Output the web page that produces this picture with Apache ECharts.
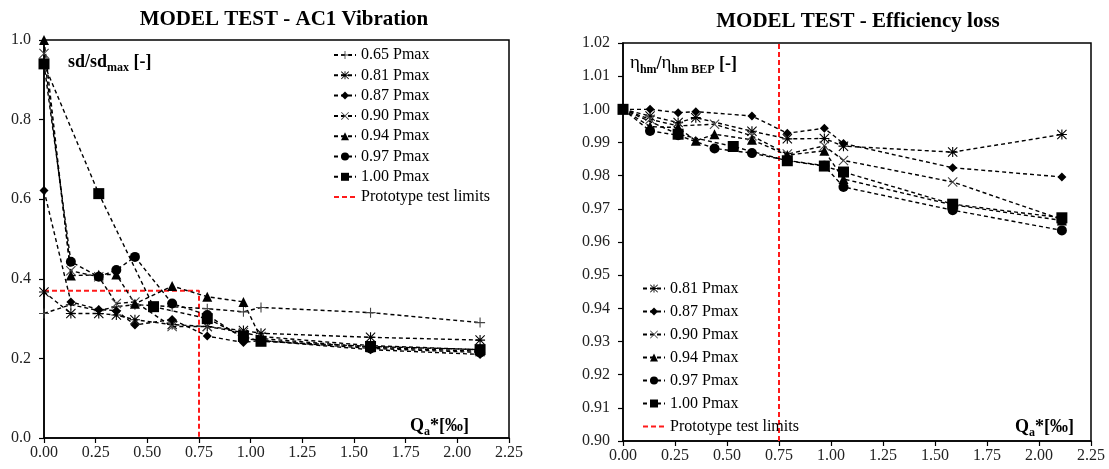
<!DOCTYPE html>
<html><head><meta charset="utf-8">
<script src="https://cdn.jsdelivr.net/npm/echarts@6.0.0/dist/echarts.min.js"></script>
<style>html,body{margin:0;padding:0;background:#fff}#c{width:1109px;height:469px}</style>
</head><body><div id="c"></div><script>
// ---------- DATA: left chart (AC1 vibration, sd/sdmax) ----------
const vibQ_065 = [0, 0.13, 0.265, 0.35, 0.44, 0.62, 0.79, 0.965, 1.05, 1.58, 2.11];
const vibSd_065 = [0.313, 0.335, 0.32, 0.33, 0.335, 0.33, 0.325, 0.317, 0.328, 0.315, 0.29];
const vibQ_081 = [0, 0.13, 0.265, 0.35, 0.44, 0.62, 0.79, 0.965, 1.05, 1.58, 2.11];
const vibSd_081 = [0.367, 0.313, 0.313, 0.309, 0.297, 0.285, 0.28, 0.27, 0.263, 0.253, 0.246];
const vibQ_087 = [0, 0.13, 0.265, 0.35, 0.44, 0.62, 0.79, 0.965, 1.05, 1.58, 2.11];
const vibSd_087 = [0.622, 0.342, 0.323, 0.32, 0.284, 0.298, 0.256, 0.24, 0.245, 0.222, 0.21];
const vibQ_090 = [0, 0.13, 0.265, 0.35, 0.44, 0.62, 0.79, 0.965, 1.05, 1.58, 2.11];
const vibSd_090 = [0.966, 0.42, 0.405, 0.338, 0.342, 0.28, 0.28, 0.265, 0.255, 0.232, 0.222];
const vibQ_094 = [0, 0.13, 0.265, 0.35, 0.44, 0.62, 0.79, 0.965, 1.05, 1.58, 2.11];
const vibSd_094 = [1.0, 0.408, 0.41, 0.411, 0.337, 0.382, 0.355, 0.342, 0.25, 0.228, 0.218];
const vibQ_097 = [0, 0.13, 0.265, 0.35, 0.44, 0.62, 0.79, 0.965, 1.05, 1.58, 2.11];
const vibSd_097 = [0.94, 0.443, 0.405, 0.422, 0.455, 0.338, 0.309, 0.25, 0.245, 0.225, 0.215];
const vibQ_100 = [0, 0.265, 0.53, 0.79, 0.965, 1.05, 1.58, 2.11];
const vibSd_100 = [0.94, 0.614, 0.33, 0.30, 0.255, 0.243, 0.23, 0.222];
const vibLimitQ = [0, 0.75, 0.75];
const vibLimitSd = [0.37, 0.37, 0];

// ---------- DATA: right chart (efficiency loss) ----------
const effQ_081 = [0, 0.13, 0.265, 0.35, 0.62, 0.79, 0.968, 1.06, 1.585, 2.11];
const effEta_081 = [1.0, 0.998, 0.996, 0.9975, 0.9934, 0.9911, 0.9912, 0.9889, 0.9871, 0.9924];
const effQ_087 = [0, 0.13, 0.265, 0.35, 0.62, 0.79, 0.968, 1.06, 1.585, 2.11];
const effEta_087 = [1.0, 1.0, 0.999, 0.9993, 0.998, 0.9928, 0.9943, 0.9897, 0.9824, 0.9796];
const effQ_090 = [0, 0.13, 0.265, 0.44, 0.62, 0.79, 0.968, 1.06, 1.585, 2.11];
const effEta_090 = [1.0, 0.997, 0.995, 0.9955, 0.992, 0.9865, 0.989, 0.9846, 0.9781, 0.9668];
const effQ_094 = [0, 0.13, 0.265, 0.35, 0.44, 0.62, 0.79, 0.968, 1.06, 1.585, 2.11];
const effEta_094 = [1.0, 0.9948, 0.9945, 0.9905, 0.9925, 0.9908, 0.9862, 0.9875, 0.979, 0.9712, 0.9665];
const effQ_097 = [0, 0.13, 0.265, 0.44, 0.62, 0.79, 0.968, 1.06, 1.585, 2.11];
const effEta_097 = [1.0, 0.9935, 0.9922, 0.9882, 0.9868, 0.9846, 0.983, 0.9766, 0.9696, 0.9635];
const effQ_100 = [0, 0.265, 0.53, 0.79, 0.968, 1.06, 1.585, 2.11];
const effEta_100 = [1.0, 0.9925, 0.9888, 0.9845, 0.9829, 0.9811, 0.9714, 0.9673];
const effLimitQ = [0.75, 0.75];
const effLimitEta = [0.90, 1.02];

// ---------- tick labels ----------
const xTicks = ['0.00','0.25','0.50','0.75','1.00','1.25','1.50','1.75','2.00','2.25'];
const vibTicks = ['0.0','0.2','0.4','0.6','0.8','1.0'];

// ---------- styling ----------
const FONT = 'Liberation Serif';
const P_PLUS = 'path://M4.45,0H5.55V10H4.45Z M0,4.45H10V5.55H0Z';
const P_CROSS = 'path://M0,0.75L0.75,0L10,9.25L9.25,10Z M9.25,0L10,0.75L0.75,10L0,9.25Z';
const P_STAR = 'path://M4.45,0H5.55V10H4.45Z M0,4.45H10V5.55H0Z M0,0.75L0.75,0L10,9.25L9.25,10Z M9.25,0L10,0.75L0.75,10L0,9.25Z';

const zip = (a, b) => a.map((v, i) => [v, b[i]]);
function ser(name, q, v, sym, size, idx, col) {
  return {
    name, type: 'line', xAxisIndex: idx, yAxisIndex: idx,
    data: zip(q, v), symbol: sym, symbolSize: size, showSymbol: true,
    lineStyle: { color: '#000', width: 1.4, type: [4, 3] },
    itemStyle: { color: col || '#000', borderWidth: 0 },
    emphasis: { disabled: true }, z: 3
  };
}
function limit(q, v, idx) {
  return {
    name: 'Prototype test limits', type: 'line', xAxisIndex: idx, yAxisIndex: idx,
    data: zip(q, v), symbol: 'none',
    lineStyle: { color: '#ff1a1a', width: 2, type: [5, 3] },
    itemStyle: { color: '#ff1a1a' }, emphasis: { disabled: true }, z: 2
  };
}

const axisLabel = { color: '#222', fontFamily: FONT, fontSize: 16 };
const axisLine = { show: true, lineStyle: { color: '#000', width: 1.5 } };
const axisTick = { show: true, length: 5, lineStyle: { color: '#000', width: 1.2 } };

const richName = {
  a: { fontFamily: FONT, fontWeight: 'bold', fontSize: 18, lineHeight: 22, verticalAlign: 'bottom' },
  n: { fontFamily: FONT, fontSize: 19, lineHeight: 22, verticalAlign: 'bottom' },
  b: { fontFamily: FONT, fontWeight: 'bold', fontSize: 12, lineHeight: 22, verticalAlign: 'bottom', padding: [0, 0, -3, 0] }
};
const legendText = { fontFamily: FONT, fontSize: 16, color: '#000', lineHeight: 16 };
const limitLegend = { name: 'Prototype test limits', itemStyle: { opacity: 0 } };

const chart = echarts.init(document.getElementById('c'), null, { renderer: 'canvas' });
chart.setOption({
  animation: false,
  backgroundColor: '#fff',
  grid: [
    { left: 44, top: 40, width: 465, height: 398, show: true, borderColor: '#000', borderWidth: 1.5 },
    { left: 623, top: 43, width: 468, height: 398, show: true, borderColor: '#000', borderWidth: 1.5 }
  ],
  xAxis: [0, 1].map(i => ({
    type: 'value', gridIndex: i, min: 0, max: 2.25, interval: 0.25,
    axisLine, axisTick, splitLine: { show: false },
    axisLabel: Object.assign({}, axisLabel, { margin: 7, formatter: (v) => xTicks[Math.round(v / 0.25)] })
  })),
  yAxis: [
    { type: 'value', gridIndex: 0, min: 0, max: 1, interval: 0.2, axisLine, axisTick, splitLine: { show: false },
      axisLabel: Object.assign({}, axisLabel, { margin: 13, formatter: (v) => vibTicks[Math.round(v / 0.2)] }) },
    { type: 'value', gridIndex: 1, min: 0.9, max: 1.02, interval: 0.01, axisLine, axisTick, splitLine: { show: false },
      axisLabel: Object.assign({}, axisLabel, { margin: 13, formatter: (v) => v.toFixed(2) }) }
  ],
  legend: [
    { orient: 'vertical', left: 333, top: 47, padding: 0, itemWidth: 22, itemHeight: 10, itemGap: 4.3,
      textStyle: legendText, selectedMode: false,
      data: ['0.65 Pmax','0.81 Pmax','0.87 Pmax','0.90 Pmax','0.94 Pmax','0.97 Pmax','1.00 Pmax', limitLegend] },
    { orient: 'vertical', left: 642, top: 280.5, padding: 0, itemWidth: 22, itemHeight: 10, itemGap: 7,
      textStyle: legendText, selectedMode: false,
      data: ['0.81 Pmax','0.87 Pmax','0.90 Pmax','0.94 Pmax','0.97 Pmax','1.00 Pmax', limitLegend] }
  ],
  graphic: [
    { type: 'text', x: 284, y: 20, style: { text: 'MODEL TEST - AC1 Vibration', font: 'bold 21px "Liberation Serif"', fill: '#000', align: 'center', verticalAlign: 'middle', textAlign: 'center', textVerticalAlign: 'middle' } },
    { type: 'text', x: 858, y: 22, style: { text: 'MODEL TEST - Efficiency loss', font: 'bold 21px "Liberation Serif"', fill: '#000', align: 'center', verticalAlign: 'middle', textAlign: 'center', textVerticalAlign: 'middle' } },
    { type: 'text', x: 68, y: 49, style: { text: '{a|sd/sd}{b|max}{a| [-]}', fill: '#000', rich: richName } },
    { type: 'text', x: 630, y: 51, style: { text: '{n|η}{b|hm}{a|/}{n|η}{b|hm BEP}{a| [-]}', fill: '#000', rich: richName } },
    { type: 'text', x: 410, y: 413, style: { text: '{a|Q}{b|a}{a|*[‰]}', fill: '#000', rich: richName } },
    { type: 'text', x: 1015, y: 414, style: { text: '{a|Q}{b|a}{a|*[‰]}', fill: '#000', rich: richName } }
  ],
  series: [
    limit(vibLimitQ, vibLimitSd, 0),
    ser('0.65 Pmax', vibQ_065, vibSd_065, P_PLUS, 10, 0, '#444'),
    ser('0.81 Pmax', vibQ_081, vibSd_081, P_STAR, 10, 0),
    ser('0.87 Pmax', vibQ_087, vibSd_087, 'diamond', 9, 0),
    ser('0.90 Pmax', vibQ_090, vibSd_090, P_CROSS, 10, 0, '#444'),
    ser('0.94 Pmax', vibQ_094, vibSd_094, 'triangle', 10, 0),
    ser('0.97 Pmax', vibQ_097, vibSd_097, 'circle', 10, 0),
    ser('1.00 Pmax', vibQ_100, vibSd_100, 'rect', 11, 0),
    limit(effLimitQ, effLimitEta, 1),
    ser('0.81 Pmax', effQ_081, effEta_081, P_STAR, 10, 1),
    ser('0.87 Pmax', effQ_087, effEta_087, 'diamond', 9, 1),
    ser('0.90 Pmax', effQ_090, effEta_090, P_CROSS, 10, 1, '#444'),
    ser('0.94 Pmax', effQ_094, effEta_094, 'triangle', 10, 1),
    ser('0.97 Pmax', effQ_097, effEta_097, 'circle', 10, 1),
    ser('1.00 Pmax', effQ_100, effEta_100, 'rect', 11, 1)
  ]
});
</script></body></html>
